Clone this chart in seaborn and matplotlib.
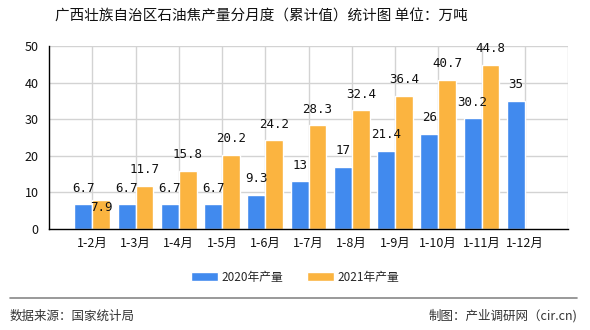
import matplotlib
matplotlib.use("Agg")
import matplotlib.pyplot as plt
import seaborn as sns
import pandas as pd
import numpy as np

categories = ["1-2月", "1-3月", "1-4月", "1-5月", "1-6月", "1-7月",
              "1-8月", "1-9月", "1-10月", "1-11月", "1-12月"]
v2020 = [6.7, 6.7, 6.7, 6.7, 9.3, 13, 17, 21.4, 26, 30.2, 35]
v2021 = [7.9, 11.7, 15.8, 20.2, 24.2, 28.3, 32.4, 36.4, 40.7, 44.8, np.nan]
series = ["2020年产量", "2021年产量"]
colors = ["#418AEE", "#FBB440"]
yticks = [0, 10, 20, 30, 40, 50]

df = pd.DataFrame({
    "cat": categories * 2,
    "val": v2020 + v2021,
    "series": [series[0]] * len(categories) + [series[1]] * len(categories),
})

sns.set_theme(style="white")
plt.rcParams["font.family"] = ["Noto Sans CJK SC", "DejaVu Sans"]

fig = plt.figure(figsize=(5.9, 3.3), dpi=100)
ax = fig.add_axes([49 / 590, 1 - 229 / 330, 519 / 590, 183 / 330])

sns.barplot(data=df, x="cat", y="val", hue="series", order=categories,
            hue_order=series, palette=colors, width=0.83, saturation=1,
            ax=ax, legend=True)

n = len(categories)
ax.set_xlim(-1, n)
ax.set_ylim(0, 50)
ax.set_yticks(yticks)
ax.set_xticks(range(n))
ax.set_xticklabels(categories, fontsize=9, color="#111111")
ax.set_xticks(np.arange(-1, n + 1), minor=True)
ax.tick_params(axis="x", which="major", length=0, pad=6)
ax.tick_params(axis="x", which="minor", length=4, width=1, color="black", direction="out")
ax.tick_params(axis="y", length=4, width=1, color="black", direction="out", labelsize=9, labelcolor="#111111")
ax.set_xlabel("")
ax.set_ylabel("")

for y in yticks[1:]:
    ax.axhline(y, color="#D3D3D3", lw=1, zorder=0)
for x in range(0, n + 1):
    ax.axvline(x, color="#D3D3D3", lw=1, zorder=0)

for s in ["top", "right"]:
    ax.spines[s].set_visible(False)
for s in ["left", "bottom"]:
    ax.spines[s].set_color("black")
    ax.spines[s].set_linewidth(1)

# data labels
special = {(1, 0): -5}
for si, cont in enumerate(ax.containers):
    vals = [v2020, v2021][si]
    for i, (bar, v) in enumerate(zip(cont, vals)):
        if np.isnan(v):
            continue
        off = special.get((si, i), 7)
        txt = f"{v:g}"
        ax.annotate(txt, (bar.get_x() + bar.get_width() / 2, v),
                    xytext=(0, off), textcoords="offset points",
                    ha="center", va="bottom" if off > 0 else "center",
                    fontsize=9, color="#111111", family=["DejaVu Sans Mono", "DejaVu Sans"])

leg = ax.legend(loc="center", bbox_to_anchor=(295 / 590, 1 - 277 / 330),
                bbox_transform=fig.transFigure, ncol=2, frameon=False,
                fontsize=8.5, handlelength=2.3, handleheight=0.9,
                columnspacing=2.0, handletextpad=0.3)

fig.text(261 / 590, 1 - 17 / 330, "广西壮族自治区石油焦产量分月度（累计值）统计图 单位：万吨",
         ha="center", va="center", fontsize=10.5, color="#111111")

fig.add_artist(plt.Line2D([10 / 590, 577 / 590], [1 - 298 / 330] * 2,
                          transform=fig.transFigure, color="#888888", lw=1.2))
fig.text(10 / 590, 1 - 316 / 330, "数据来源：国家统计局", ha="left", va="center",
         fontsize=9, color="#333333")
fig.text(577 / 590, 1 - 316 / 330, "制图：产业调研网（cir.cn)", ha="right", va="center",
         fontsize=9, color="#333333")

fig.savefig("out.png", dpi=100)
